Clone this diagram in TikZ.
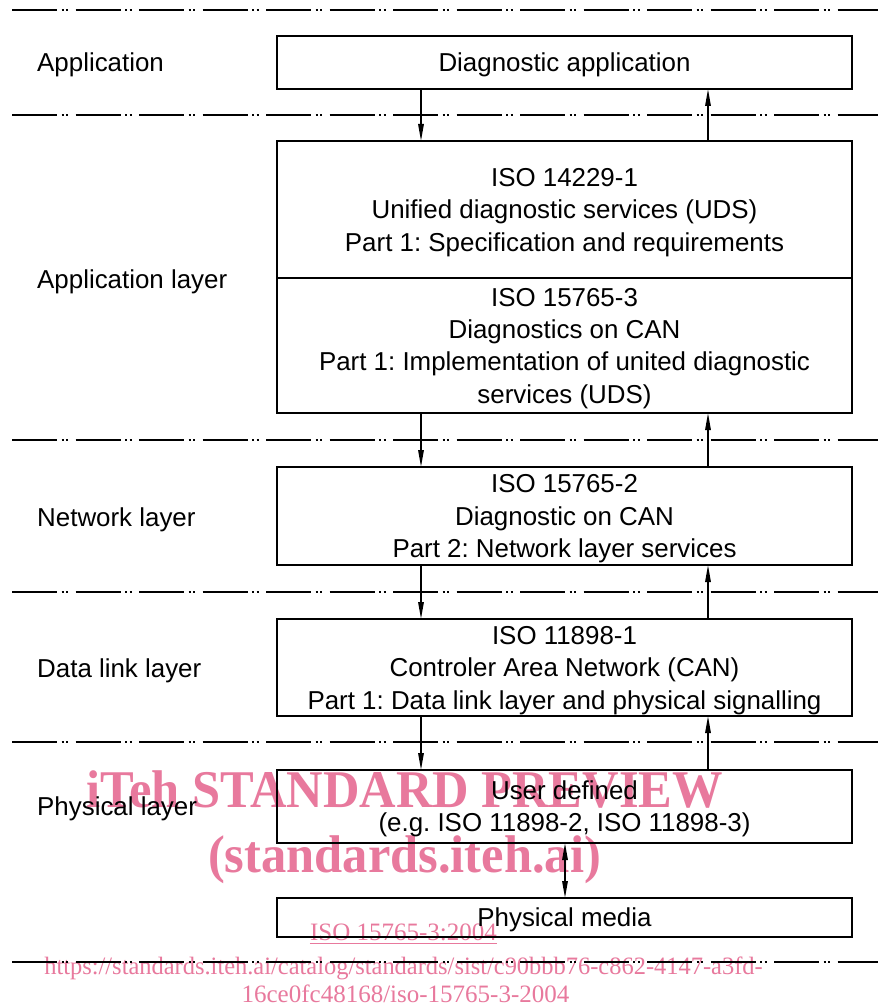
\documentclass[tikz,border=0pt]{standalone}
\usepackage{fontspec}
\setmainfont{Liberation Sans}
\newfontfamily\wmserif{Liberation Serif}
\usetikzlibrary{arrows.meta}
\definecolor{wmpink}{RGB}{232,121,157}
\frenchspacing
% strut centred on the cap height, a little shorter than the line pitch
\newcommand\cstrut{\rule[-0.242em]{0pt}{1.2em}}

\begin{document}
\begin{tikzpicture}[x=1pt,y=-1pt,
  layerrule/.style={line width=1.6pt,
    dash pattern=on 45pt off 4.5pt on 2pt off 2.5pt on 2pt off 7.5pt},
  stdbox/.style={draw, line width=1.8pt, minimum width=575pt, inner sep=0pt,
    outer sep=0pt, align=center, font=\fontsize{25.9}{32.4}\selectfont},
  lbl/.style={anchor=west, inner sep=0pt, font=\fontsize{25.9}{32.4}\selectfont},
  flow/.style={line width=1.5pt, -{Triangle[length=17pt,width=5.5pt]}},
  both/.style={line width=1.5pt, {Triangle[length=17pt,width=5.5pt]}-{Triangle[length=17pt,width=5.5pt]}},
  wmbig/.style={anchor=base, inner sep=0pt, text=wmpink,
    font=\wmserif\bfseries\fontsize{50.5}{60}\selectfont},
  wmsmall/.style={anchor=base, inner sep=0pt, text=wmpink,
    font=\wmserif\fontsize{25}{28}\selectfont},
]
\useasboundingbox (0,0) rectangle (878,1006);
\fill[white] (0,0) rectangle (878,1006);

% watermark
\node[wmbig, yscale=1.05] (wma) at (404.5,807) {iTeh STANDARD PREVIEW};
\node[wmbig, yscale=1.05] (wmb) at (404.5,872) {(standards.iteh.ai)};
\node[wmsmall] (wmc) at (403.5,940) {ISO 15765-3:2004};
\draw[wmpink, line width=1pt] ([yshift=-3pt]wmc.base west) -- ([yshift=-3pt]wmc.base east);
\node[wmsmall, xscale=0.978] (wmd) at (403.5,974) {https://standards.iteh.ai/catalog/standards/sist/c90bbb76-c862-4147-a3fd-};
\node[wmsmall] (wme) at (405.5,1002) {16ce0fc48168/iso-15765-3-2004};

% layer separators
\foreach \yy in {10,115,440,592,742,962}
  \draw[layerrule] (12,\yy) -- (878,\yy);

% layer names
\node[lbl] (lapp) at (37,62.5) {\cstrut Application};
\node[lbl] (lal)  at (37,279)  {\cstrut Application layer};
\node[lbl] (lnl)  at (37,517)  {\cstrut Network layer};
\node[lbl] (ldl)  at (37,668)  {\cstrut Data link layer};
\node[lbl] (lpl)  at (37,806)  {\cstrut Physical layer};

% protocol stack
\node[stdbox, minimum height=53pt] (app) at (564.5,62.5) {\cstrut Diagnostic application};
\node[stdbox, minimum height=137pt] (uds) at (564.5,209.5)
  {\cstrut ISO 14229-1\\ \cstrut Unified diagnostic services (UDS)\\ \cstrut Part 1: Specification and requirements};
\node[stdbox, minimum height=135pt] (dcan) at (564.5,345.5)
  {\cstrut ISO 15765-3\\ \cstrut Diagnostics on CAN\\ \cstrut Part 1: Implementation of united diagnostic\\ \cstrut services (UDS)};
\node[stdbox, minimum height=98pt] (net) at (564.5,516)
  {\cstrut ISO 15765-2\\ \cstrut Diagnostic on CAN\\ \cstrut Part 2: Network layer services};
\node[stdbox, minimum height=97pt] (dll) at (564.5,667.5)
  {\cstrut ISO 11898-1\\ \cstrut Controler Area Network (CAN)\\ \cstrut Part 1: Data link layer and physical signalling};
\node[stdbox, minimum height=73pt] (usr) at (564.5,806.5)
  {\cstrut User defined\\ \cstrut (e.g. ISO 11898-2, ISO 11898-3)};
\node[stdbox, minimum height=39pt] (phy) at (564.5,917.5) {\cstrut Physical media};

% request / response paths
\coordinate (dn) at (421,0);
\coordinate (up) at (708,0);
\coordinate (md) at (565,0);
\draw[flow] (app.south -| dn) -- (uds.north -| dn);
\draw[flow] (dcan.south -| dn) -- (net.north -| dn);
\draw[flow] (net.south -| dn) -- (dll.north -| dn);
\draw[flow] (dll.south -| dn) -- (usr.north -| dn);
\draw[flow] (uds.north -| up) -- (app.south -| up);
\draw[flow] (net.north -| up) -- (dcan.south -| up);
\draw[flow] (dll.north -| up) -- (net.south -| up);
\draw[flow] (usr.north -| up) -- (dll.south -| up);
\draw[both] (usr.south -| md) -- (phy.north -| md);
\end{tikzpicture}
\end{document}
